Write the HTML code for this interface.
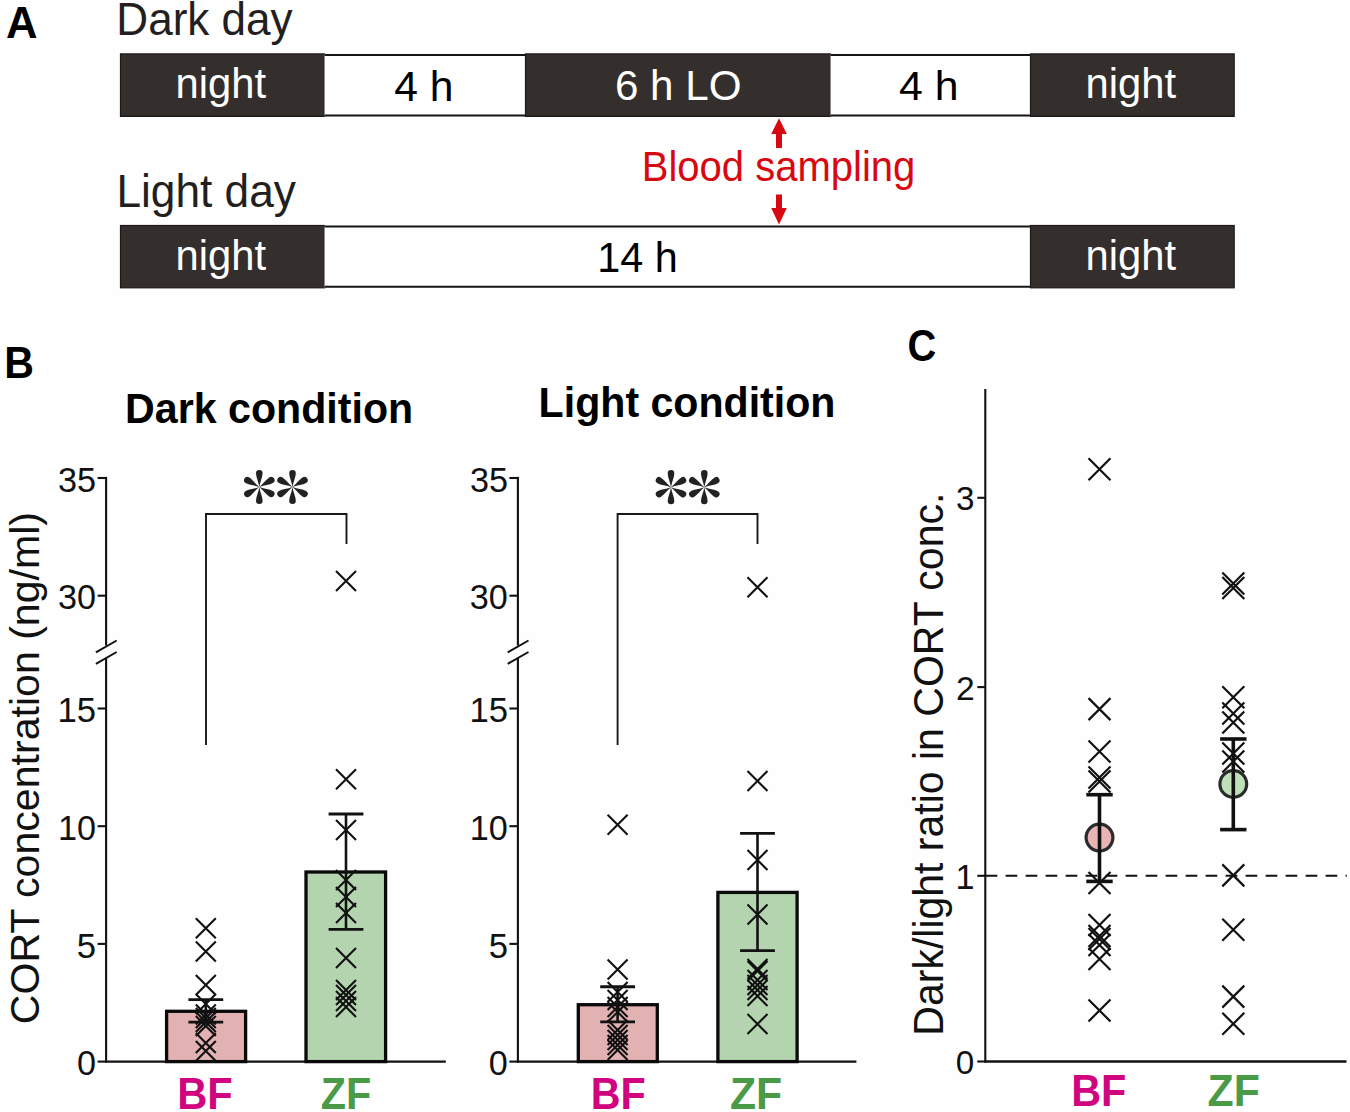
<!DOCTYPE html>
<html><head><meta charset="utf-8"><style>
html,body{margin:0;padding:0;background:#fefefe;}
svg{display:block;font-family:"Liberation Sans",sans-serif;}
</style></head><body>
<svg width="1350" height="1112" viewBox="0 0 1350 1112">
<rect width="1350" height="1112" fill="#fefefe"/>
<text x="5.91" y="37.7" font-size="43.64" font-weight="bold" textLength="31.58" lengthAdjust="spacingAndGlyphs" fill="#000" >A</text>
<text x="116.37" y="35.1" font-size="45.38" textLength="176.3" lengthAdjust="spacingAndGlyphs" fill="#231f20" >Dark day</text>
<rect x="120.5" y="53.9" width="204.0" height="62.50000000000001" fill="#342f2d" stroke="#1c1817" stroke-width="1.2"/>
<rect x="324.5" y="53.9" width="201.0" height="62.50000000000001" fill="#ffffff" stroke="none" stroke-width="0"/>
<line x1="324.5" y1="54.9" x2="525.5" y2="54.9" stroke="#141414" stroke-width="2" />
<line x1="324.5" y1="115.4" x2="525.5" y2="115.4" stroke="#141414" stroke-width="2" />
<rect x="525.5" y="53.9" width="305.0" height="62.50000000000001" fill="#342f2d" stroke="#1c1817" stroke-width="1.2"/>
<rect x="830.5" y="53.9" width="200.0" height="62.50000000000001" fill="#ffffff" stroke="none" stroke-width="0"/>
<line x1="830.5" y1="54.9" x2="1030.5" y2="54.9" stroke="#141414" stroke-width="2" />
<line x1="830.5" y1="115.4" x2="1030.5" y2="115.4" stroke="#141414" stroke-width="2" />
<rect x="1030.5" y="53.9" width="203.70000000000005" height="62.50000000000001" fill="#342f2d" stroke="#1c1817" stroke-width="1.2"/>
<text x="175.58" y="98.1" font-size="41.79" textLength="90.58" lengthAdjust="spacingAndGlyphs" fill="#fff" >night</text>
<text x="394.24" y="100.9" font-size="42.62" textLength="59.24" lengthAdjust="spacingAndGlyphs" fill="#000" >4 h</text>
<text x="614.89" y="100.3" font-size="43.03" textLength="126.59" lengthAdjust="spacingAndGlyphs" fill="#fff" >6 h LO</text>
<text x="899.14" y="99.7" font-size="41.24" textLength="59.45" lengthAdjust="spacingAndGlyphs" fill="#000" >4 h</text>
<text x="1085.58" y="98.1" font-size="41.79" textLength="90.58" lengthAdjust="spacingAndGlyphs" fill="#fff" >night</text>
<path d="M779 118.3 L786.8 134 L782 134 L782 148 L776 148 L776 134 L771.2 134 Z" fill="#d80810"/>
<path d="M779 224.5 L786.8 208 L782 208 L782 194.5 L776 194.5 L776 208 L771.2 208 Z" fill="#d80810"/>
<text x="641.7" y="181.2" font-size="42.21" textLength="273.61" lengthAdjust="spacingAndGlyphs" fill="#d80810" >Blood sampling</text>
<text x="116.45" y="206.9" font-size="45.93" textLength="179.5" lengthAdjust="spacingAndGlyphs" fill="#231f20" >Light day</text>
<rect x="120.5" y="225.5" width="204.0" height="62.30000000000001" fill="#342f2d" stroke="#1c1817" stroke-width="1.2"/>
<rect x="324.5" y="225.5" width="706.0" height="62.30000000000001" fill="#ffffff" stroke="none" stroke-width="0"/>
<line x1="324.5" y1="226.5" x2="1030.5" y2="226.5" stroke="#141414" stroke-width="2" />
<line x1="324.5" y1="286.8" x2="1030.5" y2="286.8" stroke="#141414" stroke-width="2" />
<rect x="1030.5" y="225.5" width="203.70000000000005" height="62.30000000000001" fill="#342f2d" stroke="#1c1817" stroke-width="1.2"/>
<text x="175.48" y="269.6" font-size="41.93" textLength="90.58" lengthAdjust="spacingAndGlyphs" fill="#fff" >night</text>
<text x="597.2" y="271.8" font-size="42.34" textLength="80.55" lengthAdjust="spacingAndGlyphs" fill="#000" >14 h</text>
<text x="1085.48" y="269.6" font-size="41.93" textLength="90.58" lengthAdjust="spacingAndGlyphs" fill="#fff" >night</text>
<text x="4.22" y="377.5" font-size="43.49" font-weight="bold" textLength="29.72" lengthAdjust="spacingAndGlyphs" fill="#000" >B</text>
<text x="125.02" y="422.7" font-size="42.07" font-weight="bold" textLength="288.18" lengthAdjust="spacingAndGlyphs" fill="#000" >Dark condition</text>
<text x="538.62" y="416.5" font-size="42.62" font-weight="bold" textLength="296.86" lengthAdjust="spacingAndGlyphs" fill="#000" >Light condition</text>
<line x1="106.1" y1="476.9" x2="106.1" y2="645.5" stroke="#111" stroke-width="2.1" />
<line x1="106.1" y1="658" x2="106.1" y2="1062.5" stroke="#111" stroke-width="2.1" />
<line x1="95.89999999999999" y1="652.4" x2="116.69999999999999" y2="640.5" stroke="#111" stroke-width="2" />
<line x1="95.89999999999999" y1="663.8" x2="116.69999999999999" y2="652" stroke="#111" stroke-width="2" />
<line x1="97.6" y1="478.00000000000006" x2="106.1" y2="478.00000000000006" stroke="#111" stroke-width="2.1" />
<text x="58.10" y="491.76" font-size="34.20" fill="#111">35</text>
<line x1="97.6" y1="595.7" x2="106.1" y2="595.7" stroke="#111" stroke-width="2.1" />
<text x="58.02" y="609.46" font-size="34.20" fill="#111">30</text>
<line x1="97.6" y1="708.5" x2="106.1" y2="708.5" stroke="#111" stroke-width="2.1" />
<text x="57.58" y="722.25" font-size="34.70" fill="#111">15</text>
<line x1="97.6" y1="826.1999999999999" x2="106.1" y2="826.1999999999999" stroke="#111" stroke-width="2.1" />
<text x="58.02" y="839.96" font-size="34.20" fill="#111">10</text>
<line x1="97.6" y1="943.8999999999999" x2="106.1" y2="943.8999999999999" stroke="#111" stroke-width="2.1" />
<text x="76.83" y="957.65" font-size="34.70" fill="#111">5</text>
<line x1="97.6" y1="1061.6" x2="106.1" y2="1061.6" stroke="#111" stroke-width="2.1" />
<text x="77.00" y="1075.36" font-size="34.20" fill="#111">0</text>
<line x1="105.1" y1="1061.6" x2="445.8" y2="1061.6" stroke="#111" stroke-width="2.4" />
<rect x="166.6" y="1011.3000000000001" width="78.99999999999999" height="50.29999999999988" fill="#e2b1b1" stroke="#0a0a0a" stroke-width="3.3"/>
<rect x="306.0" y="872.0" width="79.60000000000001" height="189.59999999999997" fill="#b3d4ae" stroke="#0a0a0a" stroke-width="3.3"/>
<path d="M195.8 918.3L215.8 938.3M215.8 918.3L195.8 938.3" stroke="#111" stroke-width="2.1" fill="none"/>
<path d="M195.8 941.5L215.8 961.5M215.8 941.5L195.8 961.5" stroke="#111" stroke-width="2.1" fill="none"/>
<path d="M195.8 975L215.8 995M215.8 975L195.8 995" stroke="#111" stroke-width="2.1" fill="none"/>
<path d="M195.8 994L215.8 1014M215.8 994L195.8 1014" stroke="#111" stroke-width="2.1" fill="none"/>
<path d="M195.8 1004.5L215.8 1024.5M215.8 1004.5L195.8 1024.5" stroke="#111" stroke-width="2.1" fill="none"/>
<path d="M195.8 1008L215.8 1028M215.8 1008L195.8 1028" stroke="#111" stroke-width="2.1" fill="none"/>
<path d="M195.8 1012L215.8 1032M215.8 1012L195.8 1032" stroke="#111" stroke-width="2.1" fill="none"/>
<path d="M195.8 1016L215.8 1036M215.8 1016L195.8 1036" stroke="#111" stroke-width="2.1" fill="none"/>
<path d="M195.8 1033L215.8 1053M215.8 1033L195.8 1053" stroke="#111" stroke-width="2.1" fill="none"/>
<path d="M195.8 1041L215.8 1061M215.8 1041L195.8 1061" stroke="#111" stroke-width="2.1" fill="none"/>
<path d="M336.0 571L356.0 591M356.0 571L336.0 591" stroke="#111" stroke-width="2.1" fill="none"/>
<path d="M336.0 769.3L356.0 789.3M356.0 769.3L336.0 789.3" stroke="#111" stroke-width="2.1" fill="none"/>
<path d="M336.0 820L356.0 840M356.0 820L336.0 840" stroke="#111" stroke-width="2.1" fill="none"/>
<path d="M336.0 870L356.0 890M356.0 870L336.0 890" stroke="#111" stroke-width="2.1" fill="none"/>
<path d="M336.0 887L356.0 907M356.0 887L336.0 907" stroke="#111" stroke-width="2.1" fill="none"/>
<path d="M336.0 903L356.0 923M356.0 903L336.0 923" stroke="#111" stroke-width="2.1" fill="none"/>
<path d="M336.0 948L356.0 968M356.0 948L336.0 968" stroke="#111" stroke-width="2.1" fill="none"/>
<path d="M336.0 980L356.0 1000M356.0 980L336.0 1000" stroke="#111" stroke-width="2.1" fill="none"/>
<path d="M336.0 985L356.0 1005M356.0 985L336.0 1005" stroke="#111" stroke-width="2.1" fill="none"/>
<path d="M336.0 991L356.0 1011M356.0 991L336.0 1011" stroke="#111" stroke-width="2.1" fill="none"/>
<path d="M336.0 997L356.0 1017M356.0 997L336.0 1017" stroke="#111" stroke-width="2.1" fill="none"/>
<line x1="205.8" y1="999.6" x2="205.8" y2="1022.1" stroke="#111" stroke-width="2.6" />
<line x1="188.4" y1="999.6" x2="223.20000000000002" y2="999.6" stroke="#111" stroke-width="2.9" />
<line x1="188.4" y1="1022.1" x2="223.20000000000002" y2="1022.1" stroke="#111" stroke-width="2.9" />
<line x1="346.0" y1="814" x2="346.0" y2="929.4" stroke="#111" stroke-width="2.6" />
<line x1="328.6" y1="814" x2="363.4" y2="814" stroke="#111" stroke-width="2.9" />
<line x1="328.6" y1="929.4" x2="363.4" y2="929.4" stroke="#111" stroke-width="2.9" />
<path d="M206 745 L206 514.0 L346.5 514.0 L346.5 544" stroke="#181818" stroke-width="1.9" fill="none"/>
<g transform="translate(259.3,487)" fill="#222"><path d="M0 0 C-0.8 -5.5 -3.3 -9.8 -3.3 -13.8 A3.3 3.3 0 0 1 3.3 -13.8 C3.3 -9.8 0.8 -5.5 0 0Z" transform="rotate(0)"/><path d="M0 0 C-0.8 -5.5 -3.3 -9.8 -3.3 -13.8 A3.3 3.3 0 0 1 3.3 -13.8 C3.3 -9.8 0.8 -5.5 0 0Z" transform="rotate(60)"/><path d="M0 0 C-0.8 -5.5 -3.3 -9.8 -3.3 -13.8 A3.3 3.3 0 0 1 3.3 -13.8 C3.3 -9.8 0.8 -5.5 0 0Z" transform="rotate(120)"/><path d="M0 0 C-0.8 -5.5 -3.3 -9.8 -3.3 -13.8 A3.3 3.3 0 0 1 3.3 -13.8 C3.3 -9.8 0.8 -5.5 0 0Z" transform="rotate(180)"/><path d="M0 0 C-0.8 -5.5 -3.3 -9.8 -3.3 -13.8 A3.3 3.3 0 0 1 3.3 -13.8 C3.3 -9.8 0.8 -5.5 0 0Z" transform="rotate(240)"/><path d="M0 0 C-0.8 -5.5 -3.3 -9.8 -3.3 -13.8 A3.3 3.3 0 0 1 3.3 -13.8 C3.3 -9.8 0.8 -5.5 0 0Z" transform="rotate(300)"/></g>
<g transform="translate(292.5,487)" fill="#222"><path d="M0 0 C-0.8 -5.5 -3.3 -9.8 -3.3 -13.8 A3.3 3.3 0 0 1 3.3 -13.8 C3.3 -9.8 0.8 -5.5 0 0Z" transform="rotate(0)"/><path d="M0 0 C-0.8 -5.5 -3.3 -9.8 -3.3 -13.8 A3.3 3.3 0 0 1 3.3 -13.8 C3.3 -9.8 0.8 -5.5 0 0Z" transform="rotate(60)"/><path d="M0 0 C-0.8 -5.5 -3.3 -9.8 -3.3 -13.8 A3.3 3.3 0 0 1 3.3 -13.8 C3.3 -9.8 0.8 -5.5 0 0Z" transform="rotate(120)"/><path d="M0 0 C-0.8 -5.5 -3.3 -9.8 -3.3 -13.8 A3.3 3.3 0 0 1 3.3 -13.8 C3.3 -9.8 0.8 -5.5 0 0Z" transform="rotate(180)"/><path d="M0 0 C-0.8 -5.5 -3.3 -9.8 -3.3 -13.8 A3.3 3.3 0 0 1 3.3 -13.8 C3.3 -9.8 0.8 -5.5 0 0Z" transform="rotate(240)"/><path d="M0 0 C-0.8 -5.5 -3.3 -9.8 -3.3 -13.8 A3.3 3.3 0 0 1 3.3 -13.8 C3.3 -9.8 0.8 -5.5 0 0Z" transform="rotate(300)"/></g>
<line x1="517.9" y1="476.9" x2="517.9" y2="645.5" stroke="#111" stroke-width="2.1" />
<line x1="517.9" y1="658" x2="517.9" y2="1062.5" stroke="#111" stroke-width="2.1" />
<line x1="507.7" y1="652.4" x2="528.5" y2="640.5" stroke="#111" stroke-width="2" />
<line x1="507.7" y1="663.8" x2="528.5" y2="652" stroke="#111" stroke-width="2" />
<line x1="509.4" y1="478.00000000000006" x2="517.9" y2="478.00000000000006" stroke="#111" stroke-width="2.1" />
<text x="469.90" y="491.76" font-size="34.20" fill="#111">35</text>
<line x1="509.4" y1="595.7" x2="517.9" y2="595.7" stroke="#111" stroke-width="2.1" />
<text x="469.82" y="609.46" font-size="34.20" fill="#111">30</text>
<line x1="509.4" y1="708.5" x2="517.9" y2="708.5" stroke="#111" stroke-width="2.1" />
<text x="469.38" y="722.25" font-size="34.70" fill="#111">15</text>
<line x1="509.4" y1="826.1999999999999" x2="517.9" y2="826.1999999999999" stroke="#111" stroke-width="2.1" />
<text x="469.82" y="839.96" font-size="34.20" fill="#111">10</text>
<line x1="509.4" y1="943.8999999999999" x2="517.9" y2="943.8999999999999" stroke="#111" stroke-width="2.1" />
<text x="488.63" y="957.65" font-size="34.70" fill="#111">5</text>
<line x1="509.4" y1="1061.6" x2="517.9" y2="1061.6" stroke="#111" stroke-width="2.1" />
<text x="488.80" y="1075.36" font-size="34.20" fill="#111">0</text>
<line x1="516.9" y1="1061.6" x2="856.4" y2="1061.6" stroke="#111" stroke-width="2.4" />
<rect x="578.3000000000001" y="1004.7" width="78.99999999999993" height="56.899999999999906" fill="#e2b1b1" stroke="#0a0a0a" stroke-width="3.3"/>
<rect x="717.9" y="892.4000000000001" width="79.20000000000009" height="169.19999999999987" fill="#b3d4ae" stroke="#0a0a0a" stroke-width="3.3"/>
<path d="M607.6 814.7L627.6 834.7M627.6 814.7L607.6 834.7" stroke="#111" stroke-width="2.1" fill="none"/>
<path d="M607.6 959.6L627.6 979.6M627.6 959.6L607.6 979.6" stroke="#111" stroke-width="2.1" fill="none"/>
<path d="M607.6 982L627.6 1002M627.6 982L607.6 1002" stroke="#111" stroke-width="2.1" fill="none"/>
<path d="M607.6 990L627.6 1010M627.6 990L607.6 1010" stroke="#111" stroke-width="2.1" fill="none"/>
<path d="M607.6 997L627.6 1017M627.6 997L607.6 1017" stroke="#111" stroke-width="2.1" fill="none"/>
<path d="M607.6 1002L627.6 1022M627.6 1002L607.6 1022" stroke="#111" stroke-width="2.1" fill="none"/>
<path d="M607.6 1020L627.6 1040M627.6 1020L607.6 1040" stroke="#111" stroke-width="2.1" fill="none"/>
<path d="M607.6 1025L627.6 1045M627.6 1025L607.6 1045" stroke="#111" stroke-width="2.1" fill="none"/>
<path d="M607.6 1030L627.6 1050M627.6 1030L607.6 1050" stroke="#111" stroke-width="2.1" fill="none"/>
<path d="M607.6 1035L627.6 1055M627.6 1035L607.6 1055" stroke="#111" stroke-width="2.1" fill="none"/>
<path d="M607.6 1040L627.6 1060M627.6 1040L607.6 1060" stroke="#111" stroke-width="2.1" fill="none"/>
<path d="M747.5 577.3L767.5 597.3M767.5 577.3L747.5 597.3" stroke="#111" stroke-width="2.1" fill="none"/>
<path d="M747.5 771L767.5 791M767.5 771L747.5 791" stroke="#111" stroke-width="2.1" fill="none"/>
<path d="M747.5 850L767.5 870M767.5 850L747.5 870" stroke="#111" stroke-width="2.1" fill="none"/>
<path d="M747.5 904.6L767.5 924.6M767.5 904.6L747.5 924.6" stroke="#111" stroke-width="2.1" fill="none"/>
<path d="M747.5 959L767.5 979M767.5 959L747.5 979" stroke="#111" stroke-width="2.1" fill="none"/>
<path d="M747.5 961L767.5 981M767.5 961L747.5 981" stroke="#111" stroke-width="2.1" fill="none"/>
<path d="M747.5 970L767.5 990M767.5 970L747.5 990" stroke="#111" stroke-width="2.1" fill="none"/>
<path d="M747.5 975L767.5 995M767.5 975L747.5 995" stroke="#111" stroke-width="2.1" fill="none"/>
<path d="M747.5 980L767.5 1000M767.5 980L747.5 1000" stroke="#111" stroke-width="2.1" fill="none"/>
<path d="M747.5 986L767.5 1006M767.5 986L747.5 1006" stroke="#111" stroke-width="2.1" fill="none"/>
<path d="M747.5 1014L767.5 1034M767.5 1014L747.5 1034" stroke="#111" stroke-width="2.1" fill="none"/>
<line x1="617.6" y1="986.7" x2="617.6" y2="1021.9" stroke="#111" stroke-width="2.6" />
<line x1="600.2" y1="986.7" x2="635.0" y2="986.7" stroke="#111" stroke-width="2.9" />
<line x1="600.2" y1="1021.9" x2="635.0" y2="1021.9" stroke="#111" stroke-width="2.9" />
<line x1="757.5" y1="833.4" x2="757.5" y2="950.6" stroke="#111" stroke-width="2.6" />
<line x1="740.1" y1="833.4" x2="774.9" y2="833.4" stroke="#111" stroke-width="2.9" />
<line x1="740.1" y1="950.6" x2="774.9" y2="950.6" stroke="#111" stroke-width="2.9" />
<path d="M617.6 745 L617.6 514.0 L757.5 514.0 L757.5 544" stroke="#181818" stroke-width="1.9" fill="none"/>
<g transform="translate(671,487.2)" fill="#222"><path d="M0 0 C-0.8 -5.5 -3.3 -9.8 -3.3 -13.8 A3.3 3.3 0 0 1 3.3 -13.8 C3.3 -9.8 0.8 -5.5 0 0Z" transform="rotate(0)"/><path d="M0 0 C-0.8 -5.5 -3.3 -9.8 -3.3 -13.8 A3.3 3.3 0 0 1 3.3 -13.8 C3.3 -9.8 0.8 -5.5 0 0Z" transform="rotate(60)"/><path d="M0 0 C-0.8 -5.5 -3.3 -9.8 -3.3 -13.8 A3.3 3.3 0 0 1 3.3 -13.8 C3.3 -9.8 0.8 -5.5 0 0Z" transform="rotate(120)"/><path d="M0 0 C-0.8 -5.5 -3.3 -9.8 -3.3 -13.8 A3.3 3.3 0 0 1 3.3 -13.8 C3.3 -9.8 0.8 -5.5 0 0Z" transform="rotate(180)"/><path d="M0 0 C-0.8 -5.5 -3.3 -9.8 -3.3 -13.8 A3.3 3.3 0 0 1 3.3 -13.8 C3.3 -9.8 0.8 -5.5 0 0Z" transform="rotate(240)"/><path d="M0 0 C-0.8 -5.5 -3.3 -9.8 -3.3 -13.8 A3.3 3.3 0 0 1 3.3 -13.8 C3.3 -9.8 0.8 -5.5 0 0Z" transform="rotate(300)"/></g>
<g transform="translate(704.3,487.2)" fill="#222"><path d="M0 0 C-0.8 -5.5 -3.3 -9.8 -3.3 -13.8 A3.3 3.3 0 0 1 3.3 -13.8 C3.3 -9.8 0.8 -5.5 0 0Z" transform="rotate(0)"/><path d="M0 0 C-0.8 -5.5 -3.3 -9.8 -3.3 -13.8 A3.3 3.3 0 0 1 3.3 -13.8 C3.3 -9.8 0.8 -5.5 0 0Z" transform="rotate(60)"/><path d="M0 0 C-0.8 -5.5 -3.3 -9.8 -3.3 -13.8 A3.3 3.3 0 0 1 3.3 -13.8 C3.3 -9.8 0.8 -5.5 0 0Z" transform="rotate(120)"/><path d="M0 0 C-0.8 -5.5 -3.3 -9.8 -3.3 -13.8 A3.3 3.3 0 0 1 3.3 -13.8 C3.3 -9.8 0.8 -5.5 0 0Z" transform="rotate(180)"/><path d="M0 0 C-0.8 -5.5 -3.3 -9.8 -3.3 -13.8 A3.3 3.3 0 0 1 3.3 -13.8 C3.3 -9.8 0.8 -5.5 0 0Z" transform="rotate(240)"/><path d="M0 0 C-0.8 -5.5 -3.3 -9.8 -3.3 -13.8 A3.3 3.3 0 0 1 3.3 -13.8 C3.3 -9.8 0.8 -5.5 0 0Z" transform="rotate(300)"/></g>
<text transform="translate(39.4,1022.2) rotate(-90)" x="-2.05" y="0" font-size="41.24" textLength="512.25" lengthAdjust="spacingAndGlyphs" fill="#111">CORT concentration (ng/ml)</text>
<text x="177.19" y="1109.1" font-size="44.22" font-weight="bold" textLength="55.49" lengthAdjust="spacingAndGlyphs" fill="#d1047f" >BF</text>
<text x="320.86" y="1109.1" font-size="44.22" font-weight="bold" textLength="50.46" lengthAdjust="spacingAndGlyphs" fill="#4a9a47" >ZF</text>
<text x="590.81" y="1109.1" font-size="44.22" font-weight="bold" textLength="55.06" lengthAdjust="spacingAndGlyphs" fill="#d1047f" >BF</text>
<text x="729.92" y="1109.1" font-size="44.22" font-weight="bold" textLength="52.25" lengthAdjust="spacingAndGlyphs" fill="#4a9a47" >ZF</text>
<text x="907.61" y="361.16" font-size="43.53" font-weight="bold" textLength="28.78" lengthAdjust="spacingAndGlyphs" fill="#000" >C</text>
<line x1="985.3" y1="389.1" x2="985.3" y2="1062.5" stroke="#111" stroke-width="2.1" />
<line x1="984.3" y1="1061.5" x2="1346.5" y2="1061.5" stroke="#111" stroke-width="2.4" />
<line x1="977.3" y1="1061.5" x2="985.3" y2="1061.5" stroke="#111" stroke-width="2.1" />
<text x="955.71" y="1073.92" font-size="33.22" fill="#111">0</text>
<line x1="977.3" y1="875.8" x2="985.3" y2="875.8" stroke="#111" stroke-width="2.1" />
<text x="955.55" y="888.55" font-size="34.18" fill="#111">1</text>
<line x1="977.3" y1="687.1" x2="985.3" y2="687.1" stroke="#111" stroke-width="2.1" />
<text x="955.89" y="699.85" font-size="33.69" fill="#111">2</text>
<line x1="977.3" y1="497.8" x2="985.3" y2="497.8" stroke="#111" stroke-width="2.1" />
<text x="955.88" y="510.22" font-size="33.22" fill="#111">3</text>
<line x1="985.3" y1="875.8" x2="1346.8" y2="875.8" stroke="#111" stroke-width="2" stroke-dasharray="11.7 8.3" stroke-dashoffset="-0.3"/>
<text transform="translate(942.7,1032.3) rotate(-90)" x="-3.38" y="0" font-size="41.79" textLength="543.02" lengthAdjust="spacingAndGlyphs" fill="#111">Dark/light ratio in CORT conc.</text>
<path d="M1088.5 458.3L1110.5 480.3M1110.5 458.3L1088.5 480.3" stroke="#111" stroke-width="2.2" fill="none"/>
<path d="M1088.5 698.1L1110.5 720.1M1110.5 698.1L1088.5 720.1" stroke="#111" stroke-width="2.2" fill="none"/>
<path d="M1088.5 740.5L1110.5 762.5M1110.5 740.5L1088.5 762.5" stroke="#111" stroke-width="2.2" fill="none"/>
<path d="M1088.5 766.5L1110.5 788.5M1110.5 766.5L1088.5 788.5" stroke="#111" stroke-width="2.2" fill="none"/>
<path d="M1088.5 770.5L1110.5 792.5M1110.5 770.5L1088.5 792.5" stroke="#111" stroke-width="2.2" fill="none"/>
<path d="M1088.5 872L1110.5 894M1110.5 872L1088.5 894" stroke="#111" stroke-width="2.2" fill="none"/>
<path d="M1088.5 914L1110.5 936M1110.5 914L1088.5 936" stroke="#111" stroke-width="2.2" fill="none"/>
<path d="M1088.5 925L1110.5 947M1110.5 925L1088.5 947" stroke="#111" stroke-width="2.2" fill="none"/>
<path d="M1088.5 928L1110.5 950M1110.5 928L1088.5 950" stroke="#111" stroke-width="2.2" fill="none"/>
<path d="M1088.5 934L1110.5 956M1110.5 934L1088.5 956" stroke="#111" stroke-width="2.2" fill="none"/>
<path d="M1088.5 948L1110.5 970M1110.5 948L1088.5 970" stroke="#111" stroke-width="2.2" fill="none"/>
<path d="M1088.5 999.5L1110.5 1021.5M1110.5 999.5L1088.5 1021.5" stroke="#111" stroke-width="2.2" fill="none"/>
<path d="M1222.3 572.5L1244.3 594.5M1244.3 572.5L1222.3 594.5" stroke="#111" stroke-width="2.2" fill="none"/>
<path d="M1222.3 577L1244.3 599M1244.3 577L1222.3 599" stroke="#111" stroke-width="2.2" fill="none"/>
<path d="M1222.3 686.3L1244.3 708.3M1244.3 686.3L1222.3 708.3" stroke="#111" stroke-width="2.2" fill="none"/>
<path d="M1222.3 702.5L1244.3 724.5M1244.3 702.5L1222.3 724.5" stroke="#111" stroke-width="2.2" fill="none"/>
<path d="M1222.3 711.5L1244.3 733.5M1244.3 711.5L1222.3 733.5" stroke="#111" stroke-width="2.2" fill="none"/>
<path d="M1222.3 742.5L1244.3 764.5M1244.3 742.5L1222.3 764.5" stroke="#111" stroke-width="2.2" fill="none"/>
<path d="M1222.3 750.5L1244.3 772.5M1244.3 750.5L1222.3 772.5" stroke="#111" stroke-width="2.2" fill="none"/>
<path d="M1222.3 864.4L1244.3 886.4M1244.3 864.4L1222.3 886.4" stroke="#111" stroke-width="2.2" fill="none"/>
<path d="M1222.3 918.8L1244.3 940.8M1244.3 918.8L1222.3 940.8" stroke="#111" stroke-width="2.2" fill="none"/>
<path d="M1222.3 985.6L1244.3 1007.6M1244.3 985.6L1222.3 1007.6" stroke="#111" stroke-width="2.2" fill="none"/>
<path d="M1222.3 1012.8L1244.3 1034.8M1244.3 1012.8L1222.3 1034.8" stroke="#111" stroke-width="2.2" fill="none"/>
<circle cx="1099.5" cy="837.6" r="13.4" fill="#e8b4b4" stroke="#2b2b2b" stroke-width="3.2"/>
<line x1="1099.5" y1="794.7" x2="1099.5" y2="881.4" stroke="#111" stroke-width="3.6" />
<line x1="1086.3" y1="794.7" x2="1112.7" y2="794.7" stroke="#111" stroke-width="3.6" />
<line x1="1086.3" y1="881.4" x2="1112.7" y2="881.4" stroke="#111" stroke-width="3.6" />
<circle cx="1233.3" cy="784" r="13.4" fill="#bfe0b8" stroke="#2b2b2b" stroke-width="3.2"/>
<line x1="1233.3" y1="739" x2="1233.3" y2="829.6" stroke="#111" stroke-width="3.6" />
<line x1="1220.1" y1="739" x2="1246.5" y2="739" stroke="#111" stroke-width="3.6" />
<line x1="1220.1" y1="829.6" x2="1246.5" y2="829.6" stroke="#111" stroke-width="3.6" />
<text x="1071.21" y="1106.2" font-size="44.51" font-weight="bold" textLength="55.16" lengthAdjust="spacingAndGlyphs" fill="#d1047f" >BF</text>
<text x="1207.62" y="1106.2" font-size="44.51" font-weight="bold" textLength="52.25" lengthAdjust="spacingAndGlyphs" fill="#4a9a47" >ZF</text>
</svg>
</body></html>
